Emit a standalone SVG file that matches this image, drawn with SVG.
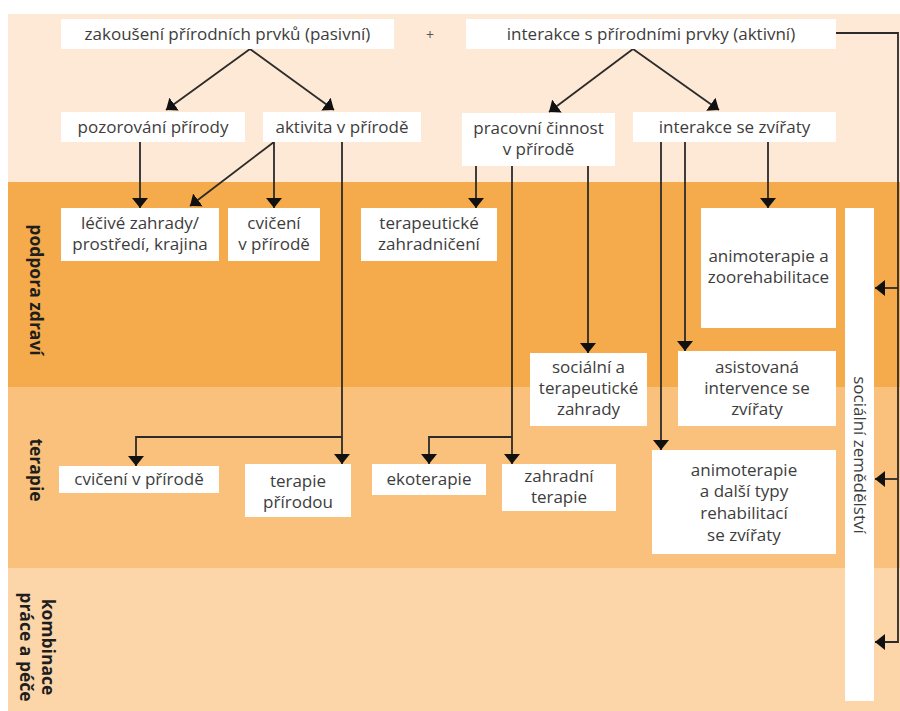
<svg xmlns="http://www.w3.org/2000/svg" width="900" height="711" viewBox="0 0 900 711">
<style>
.box{fill:#ffffff}
.t{font-family:"Open Sans","Noto Sans","Liberation Sans",sans-serif;font-size:17px;fill:#3d3d3d;text-anchor:middle}
.lbl{font-family:"Open Sans","Noto Sans","Liberation Sans",sans-serif;font-size:17.5px;font-weight:bold;fill:#1e1e1e;text-anchor:middle}
.c{stroke:#2b2b2b;stroke-width:1.8;fill:none}
.a{marker-end:url(#ah)}
</style>
<defs>
<marker id="ah" markerUnits="userSpaceOnUse" viewBox="0 0 10 16" refX="10" refY="8" markerWidth="10" markerHeight="16" orient="auto">
<path d="M0,0 L10,8 L0,16 Z" fill="#111"/>
</marker>
</defs>
<rect x="0" y="0" width="900" height="711" fill="#ffffff"/>
<g id="bands">
<rect x="8" y="14" width="892" height="168" fill="#fde9d5"/>
<rect x="8" y="182" width="892" height="205" fill="#f5ab4c"/>
<rect x="8" y="387" width="892" height="181" fill="#f9c17c"/>
<rect x="8" y="568" width="892" height="143" fill="#fcd5a8"/>
</g>
<g id="band-labels">
<text class="lbl" transform="translate(35,290) rotate(90)" y="5">podpora zdraví</text>
<text class="lbl" transform="translate(35,470) rotate(90)" y="5">terapie</text>
<text class="lbl" transform="translate(35,647) rotate(90)"><tspan x="0" y="-7">kombinace</tspan><tspan x="0" y="15">práce a péče</tspan></text>
</g>
<g id="connectors">
<path class="c a" d="M250,49 L166,110"/>
<path class="c a" d="M250,49 L334,110"/>
<path class="c a" d="M633,49 L549,112"/>
<path class="c a" d="M633,49 L719,110"/>
<path class="c a" d="M140,142 V208"/>
<path class="c a" d="M274,142 L190,206"/>
<path class="c a" d="M274,142 V208"/>
<path class="c a" d="M342,142 V464"/>
<path class="c a" d="M342,437 H136 V466"/>
<path class="c a" d="M476,166 V208"/>
<path class="c a" d="M512,166 V464"/>
<path class="c a" d="M512,437 H429 V464"/>
<path class="c a" d="M588,166 V353"/>
<path class="c a" d="M661,142 V450"/>
<path class="c a" d="M685,142 V351"/>
<path class="c a" d="M768,142 V208"/>
<path class="c a" d="M836,33 H898 V642 H875"/>
<path class="c a" d="M898,288 H875"/>
<path class="c a" d="M898,479 H875"/>
</g>
<text class="t" x="430" y="40" style="font-size:14px;fill:#555">+</text>
<g id="n-pasivni"><rect class="box" x="61" y="19" width="333" height="30"/><text class="t" x="227.5" y="40">zakoušení přírodních prvků (pasivní)</text></g>
<g id="n-aktivni"><rect class="box" x="466" y="19" width="370" height="30"/><text class="t" x="651" y="40">interakce s přírodními prvky (aktivní)</text></g>
<g id="n-pozorovani"><rect class="box" x="61" y="112" width="184" height="30"/><text class="t" x="153" y="133">pozorování přírody</text></g>
<g id="n-aktivita"><rect class="box" x="263" y="112" width="158" height="30"/><text class="t" x="342" y="133">aktivita v přírodě</text></g>
<g id="n-pracovni"><rect class="box" x="462" y="113" width="153" height="53"/><text class="t" x="538.5" y="134">pracovní činnost<tspan x="538.5" y="155">v přírodě</tspan></text></g>
<g id="n-interakce-zvirata"><rect class="box" x="633" y="112" width="203" height="30"/><text class="t" x="734.5" y="133">interakce se zvířaty</text></g>
<g id="n-lecive"><rect class="box" x="61" y="208" width="158" height="53"/><text class="t" x="140" y="229">léčivé zahrady/<tspan x="140" y="250">prostředí, krajina</tspan></text></g>
<g id="n-cviceni1"><rect class="box" x="228" y="208" width="92" height="53"/><text class="t" x="274" y="229">cvičení<tspan x="274" y="250">v přírodě</tspan></text></g>
<g id="n-ter-zahradniceni"><rect class="box" x="361" y="208" width="136" height="53"/><text class="t" x="429" y="229">terapeutické<tspan x="429" y="250">zahradničení</tspan></text></g>
<g id="n-animo1"><rect class="box" x="701" y="208" width="135" height="120"/><text class="t" x="768.5" y="262">animoterapie a<tspan x="768.5" y="283">zoorehabilitace</tspan></text></g>
<g id="n-socialni-zahrady"><rect class="box" x="530" y="353" width="117" height="73"/><text class="t" x="588.5" y="373">sociální a<tspan x="588.5" y="394">terapeutické</tspan><tspan x="588.5" y="415">zahrady</tspan></text></g>
<g id="n-asistovana"><rect class="box" x="678" y="351" width="158" height="75"/><text class="t" x="757" y="373">asistovaná<tspan x="757" y="394">intervence se</tspan><tspan x="757" y="415">zvířaty</tspan></text></g>
<g id="n-cviceni2"><rect class="box" x="59" y="466" width="160" height="27"/><text class="t" x="139" y="485">cvičení v přírodě</text></g>
<g id="n-terapie-prirodou"><rect class="box" x="245" y="464" width="106" height="53"/><text class="t" x="298" y="487">terapie<tspan x="298" y="508">přírodou</tspan></text></g>
<g id="n-ekoterapie"><rect class="box" x="372" y="464" width="114" height="31"/><text class="t" x="429" y="485">ekoterapie</text></g>
<g id="n-zahradni-terapie"><rect class="box" x="502" y="464" width="114" height="47"/><text class="t" x="559" y="482">zahradní<tspan x="559" y="503">terapie</tspan></text></g>
<g id="n-animo2"><rect class="box" x="652" y="450" width="184" height="104"/><text class="t" x="744" y="476">animoterapie<tspan x="744" y="497">a další typy</tspan><tspan x="744" y="519">rehabilitací</tspan><tspan x="744" y="541">se zvířaty</tspan></text></g>
<g id="n-socialni-zemedelstvi"><rect class="box" x="845" y="208" width="29" height="493"/><text class="t" transform="translate(859,455) rotate(90)" y="5">sociální zemědělství</text></g>
</svg>
